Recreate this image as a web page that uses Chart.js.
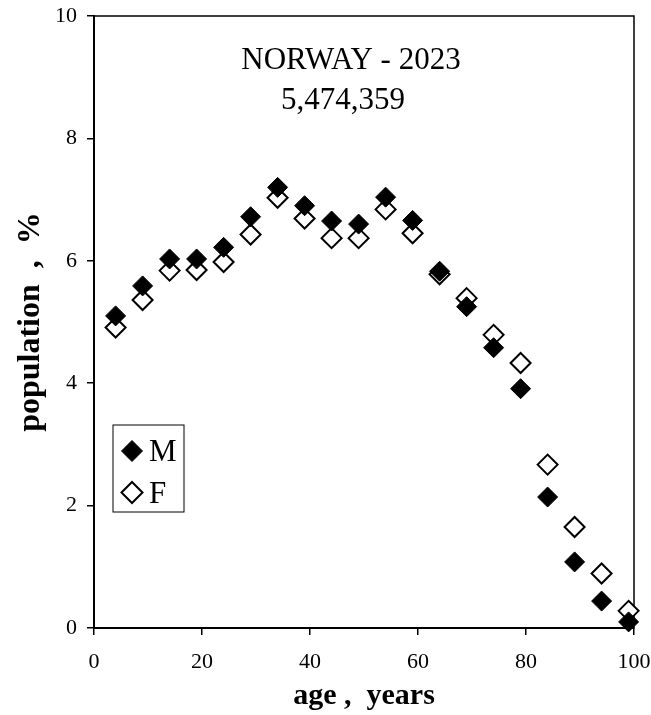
<!DOCTYPE html>
<html>
<head>
<meta charset="utf-8">
<script src="https://cdn.jsdelivr.net/npm/chart.js@4/dist/chart.umd.min.js"></script>
<style>
  body { margin: 0; background: #fff; }
  canvas { display: block; }
</style>
</head>
<body>
<canvas id="chart" width="651" height="715"></canvas>
<script>
const ages = [4, 9, 14, 19, 24, 29, 34, 39, 44, 49, 54, 59, 64, 69, 74, 79, 84, 89, 94, 99];
const male = [5.10, 5.59, 6.03, 6.03, 6.22, 6.72, 7.20, 6.90, 6.65, 6.60, 7.04, 6.66, 5.83, 5.25, 4.58, 3.91, 2.14, 1.08, 0.44, 0.10];
const female = [4.91, 5.36, 5.84, 5.85, 5.98, 6.43, 7.03, 6.69, 6.37, 6.37, 6.84, 6.45, 5.78, 5.39, 4.79, 4.33, 2.67, 1.65, 0.89, 0.28];
const seriesLabels = ["M", "F"];
const titleLines = ["NORWAY - 2023", "5,474,359"];

const serif = "'Liberation Serif', 'Times New Roman', serif";
Chart.defaults.font.family = serif;
Chart.defaults.color = "#000";

const toPoints = (vals) => vals.map((v, i) => ({ x: ages[i], y: v }));

// frame round the plot, title text and the little legend box inside the plot
const framePlugin = {
  id: "frame",
  beforeDatasetsDraw(chart) {
    const { ctx, chartArea: a } = chart;
    ctx.save();
    ctx.strokeStyle = "#000";
    ctx.lineWidth = 1.5;
    ctx.strokeRect(a.left, a.top, a.right - a.left, a.bottom - a.top);

    ctx.fillStyle = "#000";
    ctx.font = "31px " + serif;
    ctx.textAlign = "center";
    ctx.textBaseline = "alphabetic";
    ctx.fillText(titleLines[0], a.left + 257, a.top + 53);
    ctx.fillText(titleLines[1], a.left + 249, a.top + 93);
    ctx.restore();
  },
  afterDatasetsDraw(chart) {
    const { ctx, chartArea: a } = chart;
    const bx = a.left + 19, by = a.top + 409;
    ctx.save();
    ctx.fillStyle = "#fff";
    ctx.fillRect(bx, by, 71, 87);
    ctx.strokeStyle = "#000";
    ctx.lineWidth = 1;
    ctx.strokeRect(bx, by, 71, 87);
    chart.data.datasets.forEach((ds, i) => {
      const cy = by + 26 + i * 41.5;
      ctx.fillStyle = ds.pointBackgroundColor;
      ctx.strokeStyle = ds.pointBorderColor;
      ctx.lineWidth = ds.pointBorderWidth;
      Chart.helpers.drawPoint(ctx, { pointStyle: "rectRot", radius: 10.5, borderWidth: ds.pointBorderWidth }, bx + 19, cy);
      ctx.fillStyle = "#000";
      ctx.font = "31px " + serif;
      ctx.textAlign = "left";
      ctx.textBaseline = "alphabetic";
      ctx.fillText(ds.label, bx + 36, cy + 10);
    });
    ctx.restore();
  },
};

new Chart(document.getElementById("chart"), {
  type: "scatter",
  data: {
    datasets: [
      {
        label: seriesLabels[0],
        data: toPoints(male),
        pointStyle: "rectRot",
        pointRadius: 10,
        pointBackgroundColor: "#000",
        pointBorderColor: "#000",
        pointBorderWidth: 1,
        clip: false,
      },
      {
        label: seriesLabels[1],
        data: toPoints(female),
        pointStyle: "rectRot",
        pointRadius: 10,
        pointBackgroundColor: "#fff",
        pointBorderColor: "#000",
        pointBorderWidth: 2,
        clip: false,
      },
    ],
  },
  options: {
    responsive: false,
    animation: false,
    devicePixelRatio: 1,
    layout: { padding: { top: 16, right: 17, left: 0, bottom: 0 } },
    plugins: {
      legend: { display: false },
      tooltip: { enabled: false },
    },
    scales: {
      x: {
        type: "linear",
        min: 0,
        max: 100,
        ticks: { stepSize: 20, font: { size: 22 }, padding: 14, maxRotation: 0 },
        grid: { drawOnChartArea: false, drawTicks: true, tickLength: 7, color: "#000", lineWidth: 1.5 },
        border: { color: "#000", width: 2 },
        title: {
          display: true,
          text: "age ,  years",
          font: { size: 30, weight: "bold" },
          padding: { top: 0, bottom: 1 },
        },
        afterFit(scale) {
          scale.height = 87;
          scale.paddingLeft = 0;
          scale.paddingRight = 0;
        },
      },
      y: {
        type: "linear",
        min: 0,
        max: 10,
        ticks: { stepSize: 2, font: { size: 22 }, padding: 10 },
        grid: { drawOnChartArea: false, drawTicks: true, tickLength: 7, color: "#000", lineWidth: 1.5 },
        border: { color: "#000", width: 2 },
        title: {
          display: true,
          text: "population  ,  %",
          font: { size: 32, weight: "bold" },
          padding: { top: 12, bottom: 0 },
        },
        afterFit(scale) {
          scale.width = 94;
          scale.paddingTop = 0;
          scale.paddingBottom = 0;
        },
      },
    },
  },
  plugins: [framePlugin],
});
</script>
</body>
</html>
